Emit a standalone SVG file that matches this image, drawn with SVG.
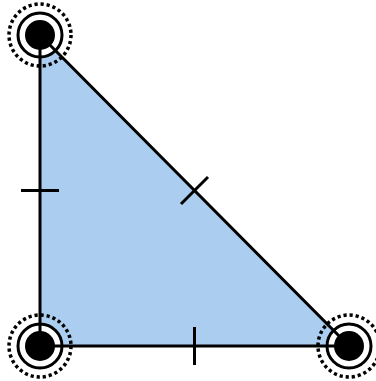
<svg xmlns="http://www.w3.org/2000/svg" width="376" height="381" viewBox="0 0 376 381">
<style>
.edge{stroke:#000;stroke-width:3;fill:none}
.tick{stroke:#000;stroke-width:3}
.bg{fill:#fff}
.dot{fill:#000}
.ring{fill:none;stroke:#000;stroke-width:3}
.dots{fill:none;stroke:#000;stroke-width:3.5;stroke-dasharray:3.2 2.9}
</style>
<rect width="376" height="381" fill="#fff"/>
<g id="triangle">
<polygon points="40,35 40,346 349,346" fill="#abcdf0"/>
</g>
<g id="backs">
<circle class="bg" cx="40" cy="35" r="21"/>
<circle class="bg" cx="40" cy="346" r="21"/>
<circle class="bg" cx="349" cy="346" r="21"/>
</g>
<g id="connectors">
<polyline class="edge" points="40,35 40,346 349,346 40,35"/>
<line class="tick" x1="21" y1="190.5" x2="59" y2="190.5"/>
<line class="tick" x1="194.5" y1="327" x2="194.5" y2="365"/>
<line class="tick" x1="181" y1="204" x2="208" y2="177"/>
</g>
<g id="v1">
<circle class="dot" cx="40" cy="35" r="15"/>
<circle class="ring" cx="40" cy="35" r="22"/>
<circle class="dots" cx="40" cy="35" r="31"/>
</g>
<g id="v2">
<circle class="dot" cx="40" cy="346" r="15"/>
<circle class="ring" cx="40" cy="346" r="22"/>
<circle class="dots" cx="40" cy="346" r="31"/>
</g>
<g id="v3">
<circle class="dot" cx="349" cy="346" r="15"/>
<circle class="ring" cx="349" cy="346" r="22"/>
<circle class="dots" cx="349" cy="346" r="31"/>
</g>
</svg>
